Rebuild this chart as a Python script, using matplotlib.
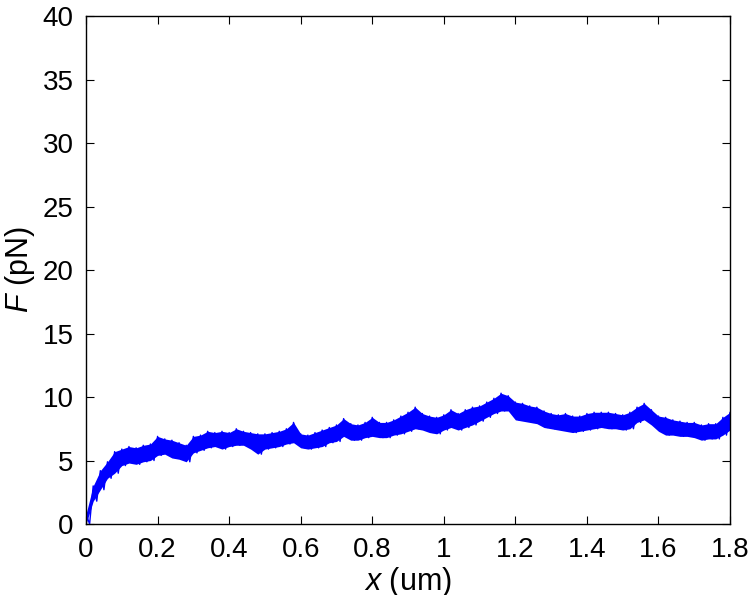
import matplotlib
matplotlib.use('Agg')
import matplotlib.pyplot as plt
import numpy as np

# 读图得到的数据：每 0.02 um 一个点，噪声带的上沿和下沿 (pN)
x_um = np.round(np.arange(0, 1.81, 0.02), 2)
F_hi = [0.8, 3.0, 4.2, 4.9, 5.7, 5.9, 6.1, 6.0, 6.2, 6.3,
        6.9, 6.7, 6.6, 6.4, 6.2, 6.9, 7.0, 7.3, 7.2, 7.3,
        7.2, 7.5, 7.3, 7.2, 7.1, 7.1, 7.2, 7.3, 7.5, 8.0,
        7.1, 7.0, 7.2, 7.4, 7.6, 7.8, 8.3, 7.9, 7.8, 8.0,
        8.4, 8.0, 8.0, 8.2, 8.5, 8.8, 9.2, 8.7, 8.5, 8.4,
        8.6, 9.0, 8.7, 9.0, 9.2, 9.3, 9.6, 9.9, 10.3, 10.1,
        9.6, 9.5, 9.3, 9.2, 8.9, 8.7, 8.6, 8.7, 8.5, 8.5,
        8.7, 8.8, 8.8, 8.8, 8.7, 8.6, 8.8, 9.2, 9.5, 9.0,
        8.5, 8.4, 8.2, 8.1, 8.0, 8.0, 7.8, 7.9, 7.9, 8.4,
        8.8]
F_lo = [0.0, 1.8, 2.7, 3.6, 4.0, 4.6, 4.8, 4.7, 4.9, 5.0,
        5.4, 5.5, 5.2, 5.1, 4.9, 5.6, 5.8, 6.0, 6.1, 5.9,
        6.1, 6.2, 6.2, 5.9, 5.5, 5.9, 6.0, 6.1, 6.3, 6.4,
        6.0, 5.9, 6.0, 6.1, 6.4, 6.5, 6.9, 6.6, 6.6, 6.8,
        6.9, 6.8, 6.8, 7.0, 7.1, 7.3, 7.5, 7.4, 7.2, 7.1,
        7.4, 7.6, 7.4, 7.6, 7.8, 8.1, 8.4, 8.7, 8.9, 8.9,
        8.2, 8.1, 8.0, 7.9, 7.6, 7.5, 7.4, 7.3, 7.2, 7.3,
        7.4, 7.5, 7.6, 7.5, 7.5, 7.4, 7.5, 8.0, 8.2, 7.8,
        7.3, 7.0, 7.0, 6.9, 6.9, 6.8, 6.6, 6.7, 6.7, 7.0,
        7.4]

x_ticks = [0, 0.2, 0.4, 0.6, 0.8, 1, 1.2, 1.4, 1.6, 1.8]
x_tick_labels = ['0', '0.2', '0.4', '0.6', '0.8', '1', '1.2', '1.4', '1.6', '1.8']
y_ticks = [0, 5, 10, 15, 20, 25, 30, 35, 40]

plt.rcParams['font.family'] = ['Liberation Sans', 'DejaVu Sans']
plt.rcParams['mathtext.fontset'] = 'custom'
plt.rcParams['mathtext.rm'] = 'Liberation Sans'
plt.rcParams['mathtext.it'] = 'Liberation Sans:italic'

fig = plt.figure(figsize=(7.52, 5.95), dpi=100)
ax = fig.add_axes([0.1144, 0.1193, 0.8564, 0.8538])

# 噪声曲线：在上沿和下沿之间来回折线
x_arr = np.asarray(x_um)
xs = np.ravel(np.column_stack([x_arr, x_arr + 0.01]))
ys = np.ravel(np.column_stack([F_hi, F_lo]))
ax.fill_between(x_arr, F_lo, F_hi, color='#0000ff', linewidth=0)
ax.plot(xs, ys, color='#0000ff', linewidth=1.0)

ax.set_xlim(0, 1.8)
ax.set_ylim(0, 40)
ax.set_xticks(x_ticks)
ax.set_xticklabels(x_tick_labels)
ax.set_yticks(y_ticks)
ax.tick_params(direction='in', top=True, right=True, length=6,
               labelsize=20, pad=9)
for s in ax.spines.values():
    s.set_linewidth(1.0)

ax.set_xlabel(r'$\mathit{x}$ (um)', fontsize=22, labelpad=2)
ax.set_ylabel(r'$\mathit{F}$ (pN)', fontsize=22, labelpad=4)

fig.savefig('out.png', dpi=100)
